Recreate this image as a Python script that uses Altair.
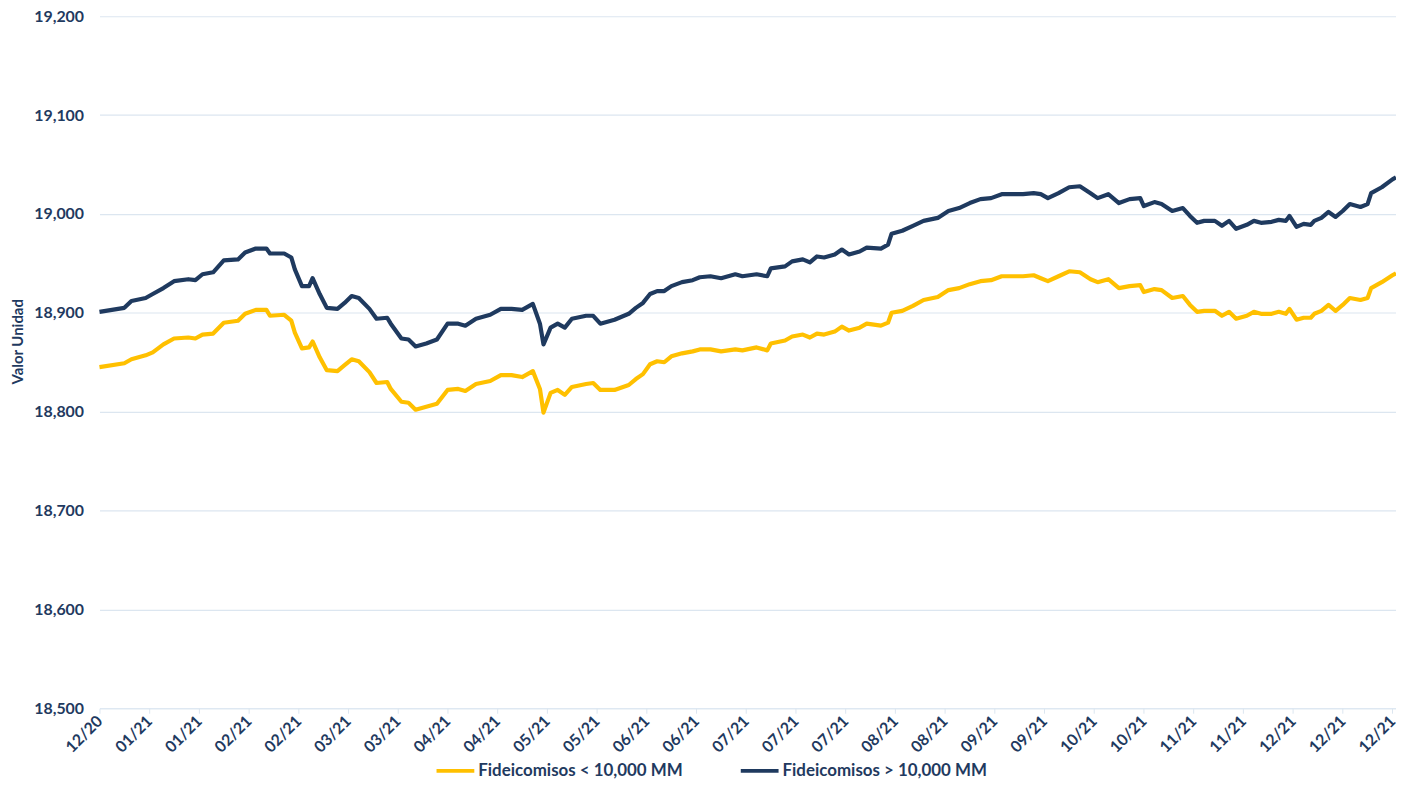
import altair as alt
import pandas as pd

start_date = "2020-12-31"

day_offsets = [0, 7, 9, 13, 15, 18, 21, 25, 27, 29, 32, 35, 39, 41, 44, 47, 48, 52, 54, 55,
               57, 59, 60, 62, 64, 67, 69, 71, 73, 76, 78, 81, 82, 85, 87, 89, 92, 95, 98, 101,
               103, 106, 110, 113, 116, 119, 122, 124, 125, 127, 129, 131, 133, 137, 139, 141, 143, 145, 149, 151,
               153, 155, 157, 159, 161, 164, 167, 169, 172, 175, 179, 181, 185, 188, 189, 193, 195, 198, 200, 202,
               204, 207, 209, 211, 214, 216, 220, 222, 223, 226, 229, 232, 236, 239, 242, 245, 248, 251, 254, 257,
               260, 263, 265, 267, 270, 273, 276, 279, 281, 284, 287, 290, 293, 294, 297, 299, 302, 305, 307, 309,
               311, 314, 316, 318, 320, 323, 325, 327, 330, 332, 334, 335, 337, 339, 341, 342, 344, 346, 348, 350,
               352, 355, 357, 358, 361, 364, 365]

dark_vals = [18901, 18905, 18912, 18915, 18919, 18925, 18932, 18934, 18933, 18939, 18941, 18953, 18954, 18961, 18965, 18965, 18960, 18960, 18956, 18944,
             18927, 18927, 18935, 18919, 18905, 18904, 18910, 18917, 18915, 18904, 18894, 18895, 18889, 18874, 18873, 18866, 18869, 18873, 18889, 18889,
             18887, 18894, 18898, 18904, 18904, 18903, 18909, 18889, 18868, 18885, 18889, 18885, 18894, 18897, 18897, 18889, 18891, 18893, 18899, 18905,
             18910, 18919, 18922, 18922, 18927, 18931, 18933, 18936, 18937, 18935, 18939, 18937, 18939, 18937, 18945, 18947, 18952, 18954, 18951, 18957,
             18956, 18959, 18964, 18959, 18962, 18966, 18965, 18969, 18980, 18983, 18988, 18993, 18996, 19003, 19006, 19011, 19015, 19016, 19020, 19020,
             19020, 19021, 19020, 19016, 19021, 19027, 19028, 19021, 19016, 19020, 19011, 19015, 19016, 19008, 19012, 19010, 19003, 19006, 18998, 18991,
             18993, 18993, 18988, 18993, 18985, 18989, 18993, 18991, 18992, 18994, 18993, 18998, 18987, 18990, 18989, 18993, 18996, 19002, 18997, 19003,
             19010, 19007, 19010, 19021, 19027, 19035, 19037]

yellow_vals = [18845, 18849, 18853, 18857, 18860, 18868, 18874, 18875, 18874, 18878, 18879, 18890, 18892, 18899, 18903, 18903, 18897, 18898, 18892, 18880,
               18864, 18865, 18871, 18855, 18842, 18841, 18847, 18853, 18851, 18840, 18829, 18830, 18823, 18810, 18809, 18802, 18805, 18808, 18822, 18823,
               18821, 18828, 18831, 18837, 18837, 18835, 18841, 18823, 18799, 18819, 18822, 18817, 18825, 18828, 18829, 18822, 18822, 18822, 18827, 18833,
               18838, 18848, 18851, 18850, 18856, 18859, 18861, 18863, 18863, 18861, 18863, 18862, 18865, 18862, 18869, 18872, 18876, 18878, 18875, 18879,
               18878, 18881, 18886, 18882, 18885, 18889, 18887, 18890, 18900, 18902, 18907, 18913, 18916, 18923, 18925, 18929, 18932, 18933, 18937, 18937,
               18937, 18938, 18935, 18932, 18937, 18942, 18941, 18934, 18931, 18934, 18925, 18927, 18928, 18921, 18924, 18923, 18915, 18917, 18908, 18901,
               18902, 18902, 18897, 18901, 18894, 18897, 18901, 18899, 18899, 18901, 18899, 18904, 18893, 18895, 18895, 18899, 18902, 18908, 18902, 18908,
               18915, 18913, 18915, 18925, 18931, 18938, 18940]

series_names = ["Fideicomisos < 10,000 MM", "Fideicomisos > 10,000 MM"]
series_colors = ["#FFC000", "#1F3A5F"]
y_ticks = [18500, 18600, 18700, 18800, 18900, 19000, 19100, 19200]
tick_step_days = 14
n_ticks = 27

t0 = pd.Timestamp(start_date)
dates = [t0 + pd.Timedelta(days=d) for d in day_offsets]
df = pd.concat([
    pd.DataFrame({"fecha": dates, "valor": yellow_vals, "serie": series_names[0], "orden": 0}),
    pd.DataFrame({"fecha": dates, "valor": dark_vals, "serie": series_names[1], "orden": 1}),
])
df["fecha"] = df["fecha"].dt.strftime("%Y-%m-%dT00:00:00Z")

tick_ms = [int((t0 + pd.Timedelta(days=tick_step_days * i)).timestamp() * 1000) for i in range(n_ticks)]
dom_ms = [int(t0.timestamp() * 1000), int((t0 + pd.Timedelta(days=365)).timestamp() * 1000)]

FONT = "Lato"
TXT = "#1F3A60"

chart = alt.Chart(df).mark_line(strokeWidth=4.2, strokeJoin="round").encode(
    x=alt.X("fecha:T",
            scale=alt.Scale(type="utc", domain=dom_ms, nice=False),
            axis=alt.Axis(values=tick_ms, format="%m/%y", formatType="time", labelAngle=-45,
                          labelAlign="right", labelBaseline="middle", labelFont=FONT,
                          labelFontSize=16, labelFontWeight="bold", labelColor=TXT,
                          labelPadding=5, labelOverlap=False, labelFlush=False,
                          grid=False, domain=True, domainColor="#DCE6F0", tickColor="#DCE6F0",
                          tickSize=5, title=None)),
    y=alt.Y("valor:Q",
            scale=alt.Scale(domain=[18500, 19200], nice=False, zero=False),
            axis=alt.Axis(values=y_ticks, format=",d", labelFont=FONT, labelFontSize=16,
                          labelFontWeight="bold", labelColor=TXT, labelPadding=16,
                          grid=True, gridColor="#DCE6F0", gridWidth=1.2, domain=False, ticks=False,
                          title="Valor Unidad", titleFont=FONT, titleFontSize=15, titleFontWeight="bold",
                          titleColor=TXT, titleX=-82, titleY=327, titleAngle=270,
                          titleAlign="center", titleBaseline="middle")),
    color=alt.Color("serie:N",
                    scale=alt.Scale(domain=series_names, range=series_colors),
                    legend=alt.Legend(orient="none", legendX=337, legendY=738, direction="horizontal",
                                      title=None, symbolType="stroke", symbolSize=1444,
                                      symbolStrokeWidth=4, labelFont=FONT, labelFontSize=17,
                                      labelFontWeight="bold", labelColor=TXT, labelOffset=2,
                                      labelLimit=0, columnPadding=50)),
    order=alt.Order("orden:Q"),
).properties(
    width=1304, height=696,
    autosize=alt.AutoSizeParams(type="none"),
    padding={"left": 92, "top": 6, "right": 0, "bottom": 90},
).configure_view(stroke=None)

chart.save("out.html", embed_options={"renderer": "svg", "actions": False})
